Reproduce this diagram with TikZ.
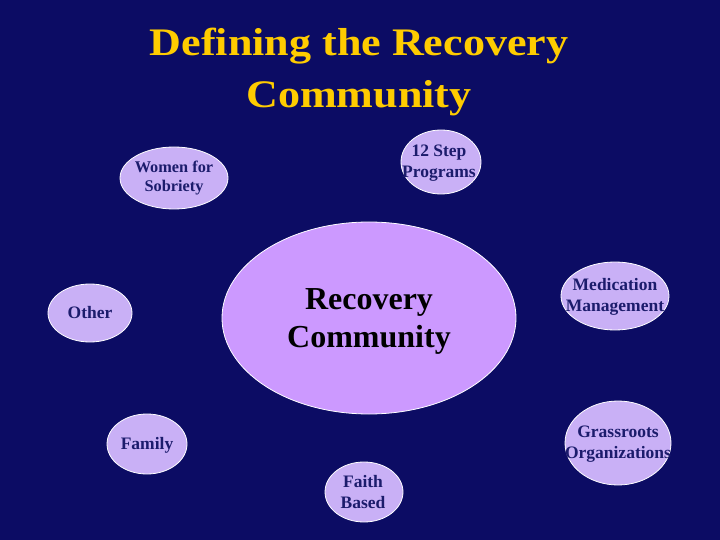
\documentclass[tikz,border=0pt]{standalone}
\usepackage{fontspec}
\setmainfont{Liberation Serif}
\usetikzlibrary{shapes.geometric}
\definecolor{bgnavy}{HTML}{0C0C64}
\definecolor{titlegold}{HTML}{FFCC00}
\definecolor{bigfill}{HTML}{CC99FF}
\definecolor{smallfill}{HTML}{C9B0F6}
\definecolor{smalltext}{HTML}{1C1C6C}
\tikzset{
  bubble/.style={ellipse, fill=smallfill, draw=white, line width=0.8pt, inner sep=0pt},
  bubbletext/.style={text=smalltext, font=\bfseries\fontsize{17.5}{21.5}\selectfont, align=center, inner sep=0pt},
  bigbubble/.style={ellipse, fill=bigfill, draw=white, line width=0.8pt, inner sep=0pt},
  titletext/.style={text=titlegold, font=\bfseries\fontsize{39}{52}\selectfont, anchor=base, inner sep=0pt, xscale=1.13}
}
\begin{document}
\begin{tikzpicture}[x=1pt,y=-1pt]
\fill[bgnavy] (0,0) rectangle (720,540);
\useasboundingbox (0,0) rectangle (720,540);
\node[titletext] (title1) at (359,56) {Defining the Recovery};
\node[titletext] (title2) at (359,108) {Community};
\node[bigbubble, minimum width=294, minimum height=192] (rc) at (369,318) {};
\node[font=\bfseries\fontsize{32}{38}\selectfont, align=center, text=black, inner sep=0pt] (rctext) at (369,321) {Recovery\\Community};
\node[bubble, minimum width=108, minimum height=62] (wfs) at (174,178) {};
\node[bubbletext, font=\bfseries\fontsize{16.3}{18.5}\selectfont] (wfstext) at (174,178) {Women for\\Sobriety};
\node[bubble, minimum width=80, minimum height=64] (tsp) at (441,162) {};
\node[bubbletext] (tsptext) at (439,163) {12 Step\\Programs};
\node[bubble, minimum width=84, minimum height=58] (oth) at (90,313) {};
\node[bubbletext] (othtext) at (90,313) {Other};
\node[bubble, minimum width=108, minimum height=68] (med) at (615,296) {};
\node[bubbletext] (medtext) at (615,297) {Medication\\Management};
\node[bubble, minimum width=80, minimum height=60] (fam) at (147,444) {};
\node[bubbletext] (famtext) at (147,445) {Family};
\node[bubble, minimum width=106, minimum height=84] (gro) at (618,443) {};
\node[bubbletext] (grotext) at (618,444) {Grassroots\\Organizations};
\node[bubble, minimum width=78, minimum height=60] (fai) at (364,492) {};
\node[bubbletext] (faitext) at (363,492) {Faith\\Based};
\end{tikzpicture}
\end{document}
